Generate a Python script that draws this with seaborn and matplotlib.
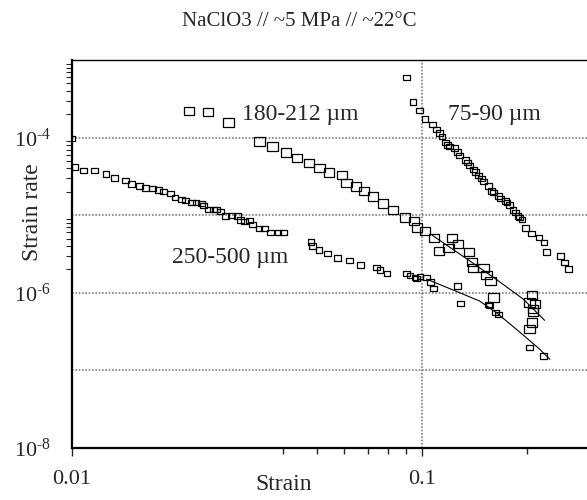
import matplotlib
matplotlib.use('Agg')
import matplotlib.pyplot as plt
import seaborn as sns
import pandas as pd

# 250-500 um grain size
coarse_strain = [0.0100, 0.0102, 0.0108, 0.0116, 0.0125, 0.0132, 0.0142, 0.0148, 0.0156,
                 0.0162, 0.0170, 0.0177, 0.0183, 0.0191, 0.0197, 0.0205, 0.0211, 0.0219,
                 0.0226, 0.0235, 0.0237, 0.0246, 0.0254, 0.0259, 0.0265, 0.0274, 0.0286,
                 0.0297, 0.0303, 0.0311, 0.0322, 0.0328, 0.0342, 0.0354, 0.0370, 0.0388,
                 0.0403, 0.0482, 0.0486, 0.0508, 0.0538, 0.0573, 0.0620, 0.0666, 0.0742,
                 0.0759, 0.0794, 0.0904, 0.0924, 0.0955, 0.0966, 0.0987, 0.103, 0.106,
                 0.108, 0.126, 0.129, 0.156, 0.155, 0.162, 0.165, 0.203, 0.222]
coarse_rate = [9.7e-5, 4.2e-5, 3.76e-5, 3.76e-5, 3.4e-5, 3.01e-5, 2.82e-5, 2.52e-5, 2.38e-5,
               2.24e-5, 2.20e-5, 2.11e-5, 2.03e-5, 1.91e-5, 1.70e-5, 1.59e-5, 1.54e-5, 1.45e-5,
               1.45e-5, 1.42e-5, 1.34e-5, 1.19e-5, 1.19e-5, 1.19e-5, 1.12e-5, 9.77e-6, 9.98e-6,
               9.77e-6, 8.67e-6, 8.34e-6, 8.51e-6, 7.57e-6, 6.78e-6, 6.78e-6, 6.02e-6, 6.02e-6,
               6.02e-6, 4.52e-6, 4.01e-6, 3.56e-6, 3.23e-6, 2.79e-6, 2.60e-6, 2.28e-6, 2.11e-6,
               1.97e-6, 1.77e-6, 1.77e-6, 1.68e-6, 1.57e-6, 1.52e-6, 1.62e-6, 1.57e-6, 1.38e-6,
               1.14e-6, 1.22e-6, 7.26e-7, 6.90e-7, 7.1e-7, 5.56e-7, 5.28e-7, 1.97e-7, 1.53e-7]

# 180-212 um grain size
medium_strain = [0.0216, 0.0245, 0.0280, 0.0343, 0.0374, 0.0408, 0.0440, 0.0476, 0.0509,
                 0.0543, 0.0590, 0.0609, 0.0648, 0.0683, 0.0723, 0.0773, 0.0825, 0.0894,
                 0.0949, 0.0966, 0.102, 0.108, 0.122, 0.127, 0.119, 0.112, 0.136, 0.139,
                 0.140, 0.150, 0.153, 0.157, 0.160, 0.206, 0.203, 0.208, 0.210, 0.208,
                 0.206, 0.203]
medium_rate = [2.20e-4, 2.14e-4, 1.56e-4, 8.88e-5, 7.66e-5, 6.41e-5, 5.41e-5, 4.67e-5, 4.10e-5,
               3.54e-5, 3.27e-5, 2.58e-5, 2.34e-5, 2.03e-5, 1.74e-5, 1.42e-5, 1.17e-5, 9.31e-6,
               8.41e-6, 6.92e-6, 6.25e-6, 5.04e-6, 5.14e-6, 4.22e-6, 3.82e-6, 3.46e-6, 3.36e-6, 2.49e-6,
               2.07e-6, 2.07e-6, 1.68e-6, 1.42e-6, 8.67e-7, 9.29e-7, 7.48e-7, 6.12e-7, 7.2e-7, 5.7e-7,
               4.13e-7, 3.39e-7]

# 75-90 um grain size
fine_strain = [0.0904, 0.0942, 0.0985, 0.102, 0.107, 0.110, 0.112, 0.114, 0.117, 0.118,
               0.120, 0.124, 0.126, 0.128, 0.133, 0.135, 0.137, 0.140, 0.142, 0.145,
               0.148, 0.150, 0.155, 0.158, 0.160, 0.165, 0.168, 0.173, 0.175, 0.178,
               0.182, 0.185, 0.188, 0.190, 0.193, 0.198, 0.206, 0.216, 0.223, 0.227,
               0.249, 0.256, 0.262]
fine_rate = [5.93e-4, 2.88e-4, 2.25e-4, 1.74e-4, 1.48e-4, 1.28e-4, 1.15e-4, 1.04e-4, 8.62e-5, 8.0e-5,
             7.66e-5, 7.33e-5, 6.5e-5, 5.86e-5, 5.14e-5, 4.8e-5, 4.40e-5, 3.90e-5, 3.6e-5, 3.27e-5,
             2.96e-5, 2.7e-5, 2.38e-5, 2.05e-5, 1.95e-5, 1.77e-5, 1.65e-5, 1.52e-5, 1.45e-5, 1.35e-5,
             1.17e-5, 1.08e-5, 9.77e-6, 9.3e-6, 8.86e-6, 6.84e-6, 5.85e-6, 5.19e-6, 4.48e-6, 3.37e-6,
             2.98e-6, 2.45e-6, 2.03e-6]

# fitted curves
fit_coarse_strain = [0.103, 0.125, 0.146, 0.163, 0.191, 0.217, 0.232]
fit_coarse_rate = [1.50e-6, 1.05e-6, 7.84e-7, 5.56e-7, 3.07e-7, 1.87e-7, 1.39e-7]
fit_medium_strain = [0.107, 0.137, 0.163, 0.195, 0.224]
fit_medium_rate = [5.51e-6, 2.57e-6, 1.49e-6, 8.24e-7, 4.42e-7]

sns.set_style('white')
plt.rcParams['font.family'] = ['Liberation Serif', 'DejaVu Serif']
plt.rcParams['mathtext.fontset'] = 'custom'
plt.rcParams['mathtext.rm'] = 'Liberation Serif'
plt.rcParams['mathtext.it'] = 'Liberation Serif:italic'

fig = plt.figure(figsize=(5.87, 5.0), dpi=100)
ax = fig.add_axes([72 / 587, 52 / 500, 517 / 587, 388 / 500])

# wide rectangle marker like the original
rect = [(-1.25, -1), (1.25, -1), (1.25, 1), (-1.25, 1), (-1.25, -1)]

coarse_df = pd.DataFrame({'strain': coarse_strain, 'rate': coarse_rate})
medium_df = pd.DataFrame({'strain': medium_strain, 'rate': medium_rate})
fine_df = pd.DataFrame({'strain': fine_strain, 'rate': fine_rate})

for df, size in [(coarse_df, 24), (medium_df, 55), (fine_df, 24)]:
    sns.scatterplot(data=df, x='strain', y='rate', marker=rect, s=size,
                    facecolor='none', edgecolor='black', linewidth=0.9, ax=ax, zorder=3)

sns.lineplot(x=fit_coarse_strain, y=fit_coarse_rate, sort=False, estimator=None,
             color='black', linewidth=0.8, ax=ax, zorder=3)
sns.lineplot(x=fit_medium_strain, y=fit_medium_rate, sort=False, estimator=None,
             color='black', linewidth=0.8, ax=ax, zorder=3)

ax.set_xscale('log')
ax.set_yscale('log')
ax.set_xlim(0.01, 0.3)
ax.set_ylim(1e-8, 1e-3)

ax.set_xticks([0.01, 0.1], labels=['0.01', '0.1'])
ax.set_xticks([0.04, 0.05, 0.06, 0.07, 0.08, 0.09, 0.2], minor=True, labels=[])
ax.set_yticks([1e-8, 1e-7, 1e-6, 1e-5, 1e-4, 1e-3],
              labels=[r'$10^{\text{-}8}$', '', r'$10^{\text{-}6}$', '', r'$10^{\text{-}4}$', ''])
y_minor = [m * 10.0 ** e for e in (-6, -5, -4) for m in range(2, 10)]
ax.set_yticks(y_minor, minor=True, labels=[])

ax.tick_params(axis='x', which='major', direction='out', length=6, width=1, pad=10,
               labelsize=16, bottom=True)
ax.tick_params(axis='x', which='minor', direction='out', length=4, width=1, bottom=True)
ax.tick_params(axis='y', which='major', length=0, pad=15, labelsize=16, left=True)
ax.tick_params(axis='y', which='minor', direction='out', length=4, width=0.8, left=True)

ax.grid(True, which='major', color='#808080', linestyle=(0, (1, 1)), linewidth=1.2)
ax.set_axisbelow(True)

for side in ['left', 'bottom']:
    ax.spines[side].set_linewidth(1.6)
    ax.spines[side].set_color('black')
ax.spines['top'].set_linewidth(1.0)
ax.spines['top'].set_color('black')
ax.spines['right'].set_visible(False)

ax.set_xlabel('Strain', fontsize=17)
ax.xaxis.set_label_coords(0.41, -0.093)
ax.xaxis.label.set_va('center')
ax.set_ylabel('Strain rate', fontsize=17)
ax.yaxis.set_label_coords(-0.077, 0.608)
ax.yaxis.label.set_va('center')

ax.text(0.328, 0.845, '180-212 µm', transform=ax.transAxes, fontsize=17, va='baseline')
ax.text(0.728, 0.845, '75-90 µm', transform=ax.transAxes, fontsize=17, va='baseline')
ax.text(0.193, 0.4776, '250-500 µm', transform=ax.transAxes, fontsize=17, va='baseline')

fig.text(299.5 / 587, 1 - 21 / 500, 'NaClO3 // ~5 MPa // ~22°C', ha='center', va='center',
         fontsize=15)

fig.savefig('out.png', dpi=100)
